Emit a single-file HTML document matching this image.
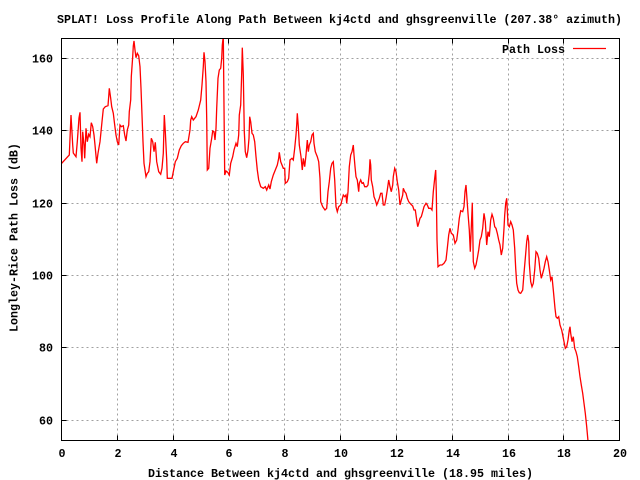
<!DOCTYPE html>
<html>
<head>
<meta charset="utf-8">
<style>
html,body{margin:0;padding:0;background:#fff;}
svg{display:block;}
text{font-family:"Liberation Mono","DejaVu Sans Mono",monospace;font-weight:bold;font-size:11.67px;fill:#000;}
</style>
</head>
<body>
<svg width="640" height="480" viewBox="0 0 640 480" xmlns="http://www.w3.org/2000/svg">
<rect x="0" y="0" width="640" height="480" fill="#fff"/>
<defs>
<clipPath id="pa"><rect x="61.5" y="38.5" width="558" height="402"/></clipPath>
</defs>
<!-- grid -->
<g stroke="#a0a0a0" stroke-width="1" stroke-dasharray="2,3" fill="none">
<line x1="117.5" y1="38.5" x2="117.5" y2="440.5"/>
<line x1="173.5" y1="38.5" x2="173.5" y2="440.5"/>
<line x1="228.5" y1="38.5" x2="228.5" y2="440.5"/>
<line x1="284.5" y1="38.5" x2="284.5" y2="440.5"/>
<line x1="340.5" y1="38.5" x2="340.5" y2="440.5"/>
<line x1="396.5" y1="38.5" x2="396.5" y2="440.5"/>
<line x1="452.5" y1="38.5" x2="452.5" y2="440.5"/>
<line x1="508.5" y1="38.5" x2="508.5" y2="440.5"/>
<line x1="563.5" y1="38.5" x2="563.5" y2="440.5"/>
<line x1="61.5" y1="58.5" x2="619.5" y2="58.5"/>
<line x1="61.5" y1="130.5" x2="619.5" y2="130.5"/>
<line x1="61.5" y1="203.5" x2="619.5" y2="203.5"/>
<line x1="61.5" y1="275.5" x2="619.5" y2="275.5"/>
<line x1="61.5" y1="347.5" x2="619.5" y2="347.5"/>
<line x1="61.5" y1="420.5" x2="619.5" y2="420.5"/>
</g>
<!-- ticks -->
<g stroke="#000" stroke-width="1">
<line x1="117.5" y1="440.5" x2="117.5" y2="435.5"/><line x1="117.5" y1="38.5" x2="117.5" y2="43.5"/>
<line x1="173.5" y1="440.5" x2="173.5" y2="435.5"/><line x1="173.5" y1="38.5" x2="173.5" y2="43.5"/>
<line x1="228.5" y1="440.5" x2="228.5" y2="435.5"/><line x1="228.5" y1="38.5" x2="228.5" y2="43.5"/>
<line x1="284.5" y1="440.5" x2="284.5" y2="435.5"/><line x1="284.5" y1="38.5" x2="284.5" y2="43.5"/>
<line x1="340.5" y1="440.5" x2="340.5" y2="435.5"/><line x1="340.5" y1="38.5" x2="340.5" y2="43.5"/>
<line x1="396.5" y1="440.5" x2="396.5" y2="435.5"/><line x1="396.5" y1="38.5" x2="396.5" y2="43.5"/>
<line x1="452.5" y1="440.5" x2="452.5" y2="435.5"/><line x1="452.5" y1="38.5" x2="452.5" y2="43.5"/>
<line x1="508.5" y1="440.5" x2="508.5" y2="435.5"/><line x1="508.5" y1="38.5" x2="508.5" y2="43.5"/>
<line x1="563.5" y1="440.5" x2="563.5" y2="435.5"/><line x1="563.5" y1="38.5" x2="563.5" y2="43.5"/>
<line x1="61.5" y1="58.5" x2="66.5" y2="58.5"/><line x1="619.5" y1="58.5" x2="614.5" y2="58.5"/>
<line x1="61.5" y1="130.5" x2="66.5" y2="130.5"/><line x1="619.5" y1="130.5" x2="614.5" y2="130.5"/>
<line x1="61.5" y1="203.5" x2="66.5" y2="203.5"/><line x1="619.5" y1="203.5" x2="614.5" y2="203.5"/>
<line x1="61.5" y1="275.5" x2="66.5" y2="275.5"/><line x1="619.5" y1="275.5" x2="614.5" y2="275.5"/>
<line x1="61.5" y1="347.5" x2="66.5" y2="347.5"/><line x1="619.5" y1="347.5" x2="614.5" y2="347.5"/>
<line x1="61.5" y1="420.5" x2="66.5" y2="420.5"/><line x1="619.5" y1="420.5" x2="614.5" y2="420.5"/>
</g>
<!-- data -->
<polyline clip-path="url(#pa)" fill="none" stroke="#ff0000" stroke-width="1.3" stroke-linejoin="miter" points="
61.7,163.3 69.3,155 71,115 72.7,145 73.3,153 76,156.7 77.3,141.7 79,118 80,112.3 81,148 82,161.7 82.7,131.7 84,145 84.7,158.3 86,128.3 87.3,141.7 88.7,134.3 90,136.7 91.3,122.7 92.7,126.7 94,135 95,145 96.7,163.3 98,153.3 100,141.7 102,121.7 103.3,109 105.3,106.7 108,105.7 108.7,96.7 109.3,88.3 110.7,98.3 111.7,106.7 113.3,113.3 114.7,125 116,135 117.3,141.7 118.7,145 120,125 121.3,126.7 123.3,125.7 124.7,135 126,141 127.3,130 128.7,125 129.3,111.7 130.7,100 131.3,76.7 132.7,56.7 133.3,46 134,41 135,50 136,57.7 137.3,53.3 138.7,55.7 140,66.7 141,88.3 142,115 143,141.7 144,163.3 146,176.7 147.3,173.3 148.7,171.7 150,161.7 151.3,138.3 152.7,141.7 154,151.7 155.3,142.3 156.7,161.7 158.7,171.7 160.7,174.3 162,168.3 163.3,153.3 164.3,115 165.3,131.7 166.7,160 167.3,178.3 172,178.3 173.3,171.7 175.3,161.7 177.3,158.3 179.3,150 181.3,145.7 183.3,143.3 185.3,141.7 188,142.3 190,130 190.7,120
191.7,116.7 193.3,120 196,116.7 198.3,110 200.7,100 202,85 203.3,66.7 204,52.3 205,61.7 206,81.7 206.7,118.3 207.3,170 208.7,168.3 210,148.3 211.7,138.3 212.7,131 214,131.7 215,140 216,128.3 216.7,108.3 218,78.3 219.3,70 220.7,68.3 221.7,58.3 222.3,45 223.3,36 224,106.7 224.7,175 226,171 227.7,172.3 229.3,175 230.7,163.3 232.7,156.7 234,150 236,143.3 237.3,146.7 238.7,135 239.3,115 240.7,105 241.7,73.3 242.3,47.7 243.3,75 244.3,131.7 245.3,151.7 246.7,157.7 248,150 249,138.3 249.7,116.7 250.7,121.7 252,133.3 253.3,135 254.7,141.7 256,156.7 257.3,170 258.7,180 260.7,186.7 263.3,188.3 265.3,186.7 266.7,190 268.7,185 270,189 271.3,181.7 273.3,175 275.3,170 277.3,165 278.7,158.3 279.3,152.3 280.7,161.7 282,165 283.3,168.3 284.7,168.3 285.3,183.3 287.3,181.7 288.7,178.3 290,160 292,158.3 293.3,160 294.7,148.3 296,135 296.7,125 297.3,113.3 298.3,126.7 299.3,145 301,156.7 302.3,170 303.3,158.3 304.7,166.7 306,155 307.3,140 308.3,151.7 309.3,145 310.7,141.7 312,135 313.3,133.3 314,143.3 315.3,151.7 317.3,156.7 318.7,161.7 320,178.3
320.7,201.7 322.7,206.7 325,210 326.7,208.3 328,191.7 329.3,181.7 330.7,168.3 332,163.3 333.3,161.7 334.7,180 336,206.7 337.3,211.7 338.7,206.7 340.7,205 342,200 343.3,195 344.7,196.7 346,195 346.7,203.3 348,191.7 349.3,166.7 350.7,155 352,151.7 353.3,145 354,155 355,166.7 356,176.7 357.3,180 358.7,191.7 359.3,183.3 360.7,180 362,183.3 363.3,182.7 364.7,186.7 366.7,186.7 368,185 369.3,173.3 370,159.3 370.7,165 371.3,180 372.7,186.7 374,196.7 375.3,200 376.7,205 378,201.7 379.3,198.3 380.7,193.3 382,193.3 383.3,205 384.7,205 386,198.3 387.3,190 388.7,180 390,186.7 391.3,191.7 392.7,185 393.3,176.7 394.7,168.3 396,171.7 397.3,181.7 398.7,190 400,205 401.3,200 402.7,195 403.3,188.3 404.7,191.7 406,193.3 407.3,198.3 408.7,201.7 410.7,204 412.7,206 414,210 415.3,210 416.7,220 417.7,226.7 418.7,223.3 420,218.3 421.3,216.7 422.7,211.7 424,206.7 426,203.3 427.3,205 428.7,208.3 430.7,208.3 432,210 433.3,191.7 434.7,178.3 435.7,170 436.3,191.7 437,240 438,266.7 440,265 442,265 444,263.3 446,260 447.3,248.3 448.7,235 450,228.3 451.3,233.3 453.3,235
455,243.3 456.7,240 458,230 459.3,218.3 460.7,210.7 462.7,211.7 464,206.7 465,191.7 466,185 466.7,195 468,213.3 469.3,230 470.3,251.7 471,235 472.3,202.7 473.3,261.7 474.7,268.3 476,265 477.3,258.3 478.7,250 480,240 481.3,236.7 482.7,228.3 484,213.3 485.3,221.7 486.7,245 488,231.7 489.3,236.7 490.7,220 492,214.3 493.3,218.3 494.7,226.7 496,228.3 497.3,233.3 498.7,240 500,245 501.3,255 502.7,248.3 504,228.3 504.7,215 505.7,203.3 506.7,198.3 507.3,210 508,225 509.3,226.7 510.7,221.7 512,225 513.3,230 514.7,248.3 515.7,268.3 516.7,283.3 518,290 519.3,292.7 520.7,293.3 522.7,290 524,273.3 525.3,258.3 526.7,241.7 527.7,235 528.7,241.7 529.3,263.3 530.7,281.7 532,286.7 533.3,283.3 534.7,270 536,251.7 537.3,253.3 538.7,258.3 540,270 541.3,278.3 542.7,273.3 544,268.3 545.3,261.7 546.7,256.7 548,261.7 549.3,270 550.7,280 552,276.7 553.3,290 555,308.3 556,316.7 557.3,318.3 558.7,316.7 560,325 561.7,330 562.7,335 564,341.7 565.3,348.3 566.7,346.7 568,340 569.3,330 570,326.7 570.7,333.3 572,341.7 573.3,336.7 574.7,348.3 576,351.7 577.3,356.7 578.7,366.7 580,376.7 581.3,385 582.7,393.3 584,403.3 585.3,413.3 586.7,426.7 588,441
"/>
<!-- border -->
<rect x="61.5" y="38.5" width="558" height="402" fill="none" stroke="#000" stroke-width="1"/>
<!-- legend -->
<text x="565" y="53" text-anchor="end">Path Loss</text>
<line x1="573" y1="48.5" x2="606" y2="48.5" stroke="#ff0000" stroke-width="1.3"/>
<!-- y tick labels -->
<text x="53" y="62.5" text-anchor="end">160</text>
<text x="53" y="134.5" text-anchor="end">140</text>
<text x="53" y="207.5" text-anchor="end">120</text>
<text x="53" y="279.5" text-anchor="end">100</text>
<text x="53" y="351.5" text-anchor="end">80</text>
<text x="53" y="424.5" text-anchor="end">60</text>
<!-- x tick labels -->
<text x="62" y="457" text-anchor="middle">0</text>
<text x="118" y="457" text-anchor="middle">2</text>
<text x="174" y="457" text-anchor="middle">4</text>
<text x="229" y="457" text-anchor="middle">6</text>
<text x="285" y="457" text-anchor="middle">8</text>
<text x="341" y="457" text-anchor="middle">10</text>
<text x="397" y="457" text-anchor="middle">12</text>
<text x="453" y="457" text-anchor="middle">14</text>
<text x="509" y="457" text-anchor="middle">16</text>
<text x="564" y="457" text-anchor="middle">18</text>
<text x="620" y="457" text-anchor="middle">20</text>
<!-- titles -->
<text x="57" y="23" textLength="565" lengthAdjust="spacing">SPLAT! Loss Profile Along Path Between kj4ctd and ghsgreenville (207.38° azimuth)</text>
<text x="148" y="477" textLength="385" lengthAdjust="spacing">Distance Between kj4ctd and ghsgreenville (18.95 miles)</text>
<text transform="translate(17.5,237.5) rotate(-90)" text-anchor="middle">Longley-Rice Path Loss (dB)</text>
</svg>
</body>
</html>
